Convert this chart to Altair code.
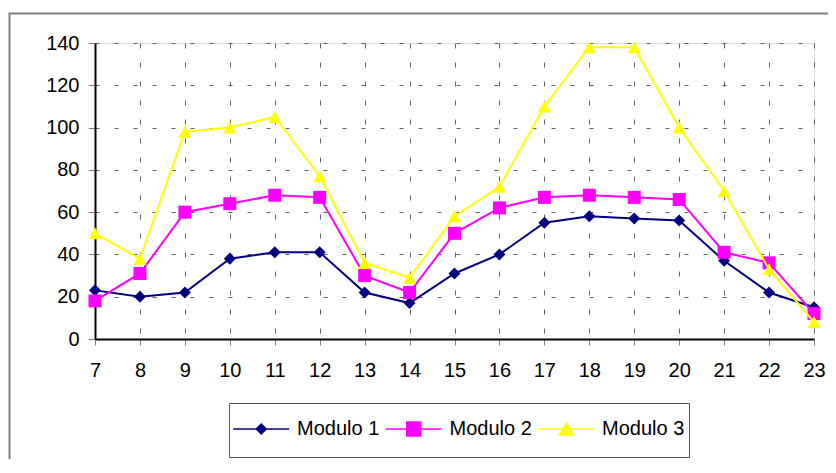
import altair as alt
import pandas as pd

hours = list(range(7, 24))
modulo1 = [23, 20, 22, 38, 41, 41, 22, 17, 31, 40, 55, 58, 57, 56, 37, 22, 15]
modulo2 = [18, 31, 60, 64, 68, 67, 30, 22, 50, 62, 67, 68, 67, 66, 41, 36, 12]
modulo3 = [50, 38, 98, 100, 105, 77, 36, 29, 58, 72, 110, 138, 138, 100, 70, 33, 8]
series_names = ["Modulo 1", "Modulo 2", "Modulo 3"]
series_colors = ["#000080", "#FF00FF", "#FFFF00"]
y_ticks = [0, 20, 40, 60, 80, 100, 120, 140]

# marker shapes for the plot (diamond, square, triangle)
marker_paths = [
    "M0,-1.2L1.2,0L0,1.2L-1.2,0Z",
    "M-1.3,-1.3H1.3V1.3H-1.3Z",
    "M0,-1.2L1.3,1.2L-1.3,1.2Z",
]
# legend symbols: line with marker in the middle (+ invisible point to pad the box)
legend_paths = [
    "M-1.036,0H1.63M0.298,-0.238L0.536,0L0.298,0.238L0.06,0ZM0.298,1L0.298,1",
    "M-1.036,0H1.63M-0.035,-0.333H0.631V0.333H-0.035ZM0.298,1L0.298,1",
    "M-1.036,0H1.63M0.298,-0.286L0.631,0.286L-0.035,0.286ZM0.298,1L0.298,1",
]

rows = []
for name, vals in zip(series_names, [modulo1, modulo2, modulo3]):
    for h, v in zip(hours, vals):
        rows.append({"hour": h, "value": v, "serie": name})
df = pd.DataFrame(rows)

font = "Liberation Sans"

legend = alt.Legend(
    title=None,
    orient="none",
    legendX=134,
    legendY=360,
    direction="horizontal",
    padding=4,
    strokeColor="#555555",
    fillColor="white",
    labelFont=font,
    labelFontSize=20,
    labelColor="black",
    labelOffset=20,
    symbolSize=1764,
    symbolStrokeWidth=1.5,
    symbolOpacity=1,
    columnPadding=2.5,
)

x_enc = alt.X(
    "hour:Q",
    scale=alt.Scale(domain=[hours[0], hours[-1]], nice=False, zero=False),
    axis=alt.Axis(
        values=hours, title=None, labelFont=font, labelFontSize=20, labelColor="black",
        labelPadding=15, tickSize=6, tickColor="#808080", domainColor="black", domainWidth=2,
        grid=True, gridColor="#606060", gridDash=[5, 14], gridWidth=1, labelFlush=False,
    ),
)
y_enc = alt.Y(
    "value:Q",
    scale=alt.Scale(domain=[y_ticks[0], y_ticks[-1]], nice=False),
    axis=alt.Axis(
        values=y_ticks, title=None, labelFont=font, labelFontSize=20, labelColor="black",
        labelPadding=9, tickSize=7, tickColor="#808080", domainColor="black", domainWidth=2,
        grid=True, gridColor="#606060", gridDash=[4, 15], gridWidth=1,
    ),
)

layers = []
frame = alt.Chart(pd.DataFrame({"a": [0]})).mark_rect(
    fill="transparent", stroke="#808080", strokeWidth=2
).encode(
    x=alt.value(-85.5), x2=alt.value(900), y=alt.value(-29.5), y2=alt.value(600)
)
layers.append(frame)

for name, col, mpath in zip(series_names, series_colors, marker_paths):
    base = alt.Chart(df).transform_filter(alt.datum.serie == name)
    layers.append(
        base.mark_line(strokeWidth=2, color=col).encode(x=x_enc, y=y_enc)
    )
    layers.append(
        base.mark_point(filled=True, opacity=1, size=100, strokeWidth=0, shape=mpath, color=col).encode(
            x=x_enc, y=y_enc
        )
    )

# legend-only layer (no marks drawn, legend from explicit scale domains)
sc_col = alt.Scale(domain=series_names, range=series_colors)
legend_layer = alt.Chart(df).transform_filter("false").mark_point(
    opacity=1, strokeWidth=1.5
).encode(
    x=x_enc,
    y=y_enc,
    fill=alt.Fill("serie:N", scale=sc_col, legend=legend),
    stroke=alt.Stroke("serie:N", scale=sc_col, legend=legend),
    shape=alt.Shape("serie:N", scale=alt.Scale(domain=series_names, range=legend_paths), legend=legend),
)
layers.append(legend_layer)

chart = alt.layer(*layers).properties(
    width=719,
    height=296,
    autosize=alt.AutoSizeParams(type="none"),
    padding={"left": 87, "top": 35, "right": 14, "bottom": 120},
).configure_view(stroke="#808080", strokeWidth=1).configure(background="white")

chart.save("out.html", embed_options={"renderer": "svg", "actions": False})
